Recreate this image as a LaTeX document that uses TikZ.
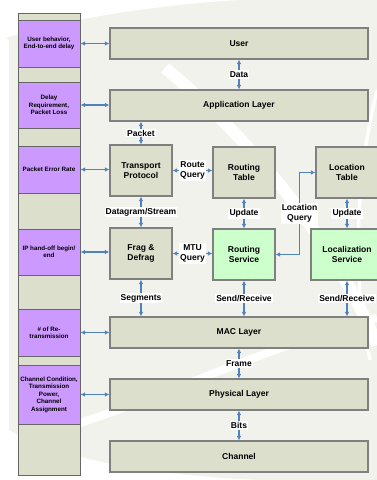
\documentclass[tikz,border=0pt]{standalone}
\usepackage{fontspec}
\setmainfont{Liberation Sans}
\usepackage{tikz}
\usetikzlibrary{arrows.meta}

\definecolor{bgcol}{RGB}{242,242,236}
\definecolor{boxcol}{RGB}{221,223,205}
\definecolor{greencol}{RGB}{204,255,204}
\definecolor{purplecol}{RGB}{204,153,255}
\definecolor{linecol}{RGB}{128,128,128}
\definecolor{arrowcol}{RGB}{79,129,189}

\tikzset{
  box/.style={draw=linecol, line width=0.8pt, fill=boxcol, align=center, inner sep=1pt,
    font=\bfseries\fontsize{6.4}{7.7}\selectfont},
  widebox/.style={box, minimum width=193.5pt, minimum height=23.25pt},
  smallbox/.style={box, minimum width=46.5pt, minimum height=38.25pt},
  greenbox/.style={smallbox, fill=greencol},
  cell/.style={draw=black!60, line width=0.7pt, fill=purplecol, align=center, inner sep=0.5pt,
    minimum width=46.5pt, font=\bfseries\fontsize{4.7}{5.6}\selectfont},
  conn/.style={draw=arrowcol, line width=1.3pt,
    {Latex[length=3.5pt,width=3.5pt]}-{Latex[length=3.5pt,width=3.5pt]}},
  lbl/.style={fill=white, inner sep=0.8pt, align=center,
    font=\bfseries\fontsize{6.4}{7.7}\selectfont}
}

\begin{document}
\begin{tikzpicture}[x=0.75pt,y=0.75pt,yscale=-1,xscale=1]

\useasboundingbox (0,0) rectangle (377,480);
\clip (0,0) rectangle (377,480);

% background
\fill[bgcol] (0,0) rectangle (377,480);
\fill[white] (0,0) -- (240,0) .. controls (150,5) and (50,22) .. (0,40) -- cycle;
\fill[white] (0,40) .. controls (4,38) .. (9,40) -- (9,430) .. controls (60,460) and (160,476) .. (260,480) -- (0,480) -- cycle;
\draw[white, line width=9pt] (165,68) .. controls (240,130) and (330,230) .. (377,345);
\draw[white, line width=2.5pt] (377,90) .. controls (355,180) and (352,280) .. (370,360);
\draw[white, line width=6pt] (0,445) .. controls (120,420) and (250,350) .. (377,318);

% left column
\draw[black!60, line width=0.7pt, fill=boxcol] (18,13) rectangle (80,475);

\node[cell, minimum height=35.25pt] (c1) at (49,43.5) {User behavior,\\End-to-end delay};
\node[cell, minimum height=34.5pt] (c2) at (49,105) {Delay\\Requirement,\\Packet Loss};
\node[cell, minimum height=35.25pt] (c3) at (49,169.5) {Packet Error Rate};
\node[cell, minimum height=34.5pt] (c4) at (49,252) {IP hand-off begin/\\end};
\node[cell, minimum height=35.25pt] (c5) at (49,332.5) {\# of Re-\\transmission};
\node[cell, minimum height=44.25pt] (c6) at (49,394.5) {Channel Condition,\\Transmission\\Power,\\Channel\\Assignment};

% layers
\node[widebox] (user) at (239,43.5) {User};
\node[widebox] (app) at (239,105.5) {Application Layer};
\node[smallbox] (transport) at (141,170.5) {Transport\\Protocol};
\node[smallbox] (rtable) at (244,172.5) {Routing\\Table};
\node[smallbox] (ltable) at (347,172.5) {Location\\Table};
\node[smallbox] (frag) at (141,253.5) {Frag \&\\Defrag};
\node[greenbox] (rservice) at (244,254.5) {Routing\\Service};
\node[greenbox, minimum width=54pt] (lservice) at (347,254.5) {Localization\\Service};
\node[widebox] (mac) at (239,332.5) {MAC Layer};
\node[widebox] (phy) at (239,394.5) {Physical Layer};
\node[widebox] (chan) at (239,456.5) {Channel};

% column links
\draw[conn] (c1.east) -- (c1.east -| user.west);
\draw[conn] (c2.east) -- (c2.east -| app.west);
\draw[conn] (c3.east) -- (c3.east -| transport.west);
\draw[conn] (c4.east) -- (c4.east -| frag.west);
\draw[conn] (c5.east) -- (c5.east -| mac.west);
\draw[conn] (c6.east) -- (c6.east -| phy.west);

% vertical links
\draw[conn] (user) -- node[lbl] (data) {Data} (app);
\draw[conn] (app.south -| transport) -- node[lbl] (packet) {Packet} (transport.north);
\draw[conn] (transport) -- node[lbl] (dgram) {Datagram/Stream} (frag);
\draw[conn] (frag) -- node[lbl] (segs) {Segments} (frag |- mac.north);
\draw[conn] (rtable) -- node[lbl] (upd1) {Update} (rservice);
\draw[conn] (ltable) -- node[lbl] (upd2) {Update} (lservice);
\draw[conn] (rservice) -- node[lbl] (sr1) {Send/Receive} (rservice |- mac.north);
\draw[conn] (lservice) -- node[lbl] (sr2) {Send/Receive} (lservice |- mac.north);
\draw[conn] (mac) -- node[lbl] (frame) {Frame} (phy);
\draw[conn] (phy) -- node[lbl] (bits) {Bits} (chan);

% horizontal links
\draw[conn] (transport) -- node[lbl] (rquery) {Route\\Query} (transport -| rtable.west);
\draw[conn] (frag) -- node[lbl] (mquery) {MTU\\Query} (frag -| rservice.west);
\draw[conn] (rservice.east) -- ++(24,0) |- node[lbl, pos=0.25] (lquery) {Location\\Query} (ltable.west);

\end{tikzpicture}
\end{document}
